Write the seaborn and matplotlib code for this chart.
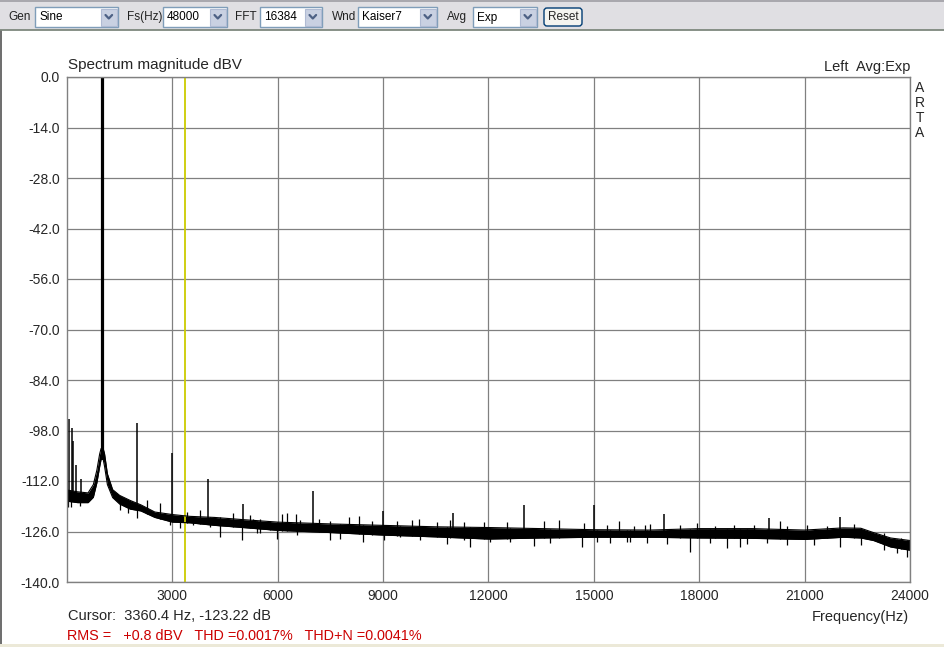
import numpy as np
import pandas as pd
import matplotlib
matplotlib.use('Agg')
import matplotlib.pyplot as plt
import seaborn as sns
from matplotlib.patches import Rectangle, FancyBboxPatch

# noise floor core (Hz, dBV)
floor_freq = [0, 300, 600, 750, 850, 930, 970, 1030, 1070, 1150, 1300, 1500, 1800,
              2100, 2500, 3000, 3500, 4200, 5000, 6000, 7500, 9000, 10500, 12000,
              13500, 15000, 16600, 18000, 19500, 21000, 22100, 22600, 22960, 23450, 24000]
floor_hi = [-114.5, -115.0, -115.3, -113.0, -109.0, -104.5, -103.0, -103.0, -104.5,
            -110.0, -114.4, -116.0, -117.4, -118.6, -120.6, -121.3, -121.8, -122.1,
            -122.7, -123.4, -123.9, -124.3, -124.7, -124.9, -125.2, -125.5, -125.6,
            -125.2, -125.2, -125.6, -125.0, -125.1, -126.3, -127.8, -128.5]
floor_lo = [-117.6, -118.0, -118.0, -116.5, -112.5, -108.0, -106.0, -106.0, -108.0,
            -113.0, -116.6, -118.4, -119.8, -120.3, -122.1, -123.4, -123.6, -124.3,
            -124.9, -125.7, -126.3, -127.0, -127.5, -128.1, -127.8, -127.6, -127.6,
            -127.8, -127.9, -128.2, -127.6, -127.8, -128.5, -130.3, -131.2]

# fundamental
fund_freq = 1000
fund_level = 0.8

# spurs / harmonics
spur_freq = [50, 150, 180, 250, 390, 2000, 3000, 4000, 5000, 7000, 9000, 11000, 13000,
             15000, 17000, 20000, 22000]
spur_top = [-94.8, -97.3, -100.9, -107.6, -111.5, -95.9, -104.2, -111.4, -118.5, -114.8,
            -120.3, -120.8, -118.7, -118.7, -121.2, -122.2, -121.9]

# upward noise excursions
up_freq = [2270, 2650, 3410, 3790, 4359, 4739, 5214, 5309, 5499, 5784, 6135, 6259, 6520,
           6639, 7161, 7493, 8015, 8301, 8680, 9393, 9820, 10010, 10532, 10912, 11292,
           11862, 12527, 13571, 14000, 14711, 15375, 15710, 16135, 16468, 16610, 17464,
           17939, 18461, 18984, 19554, 20310, 20503, 21073, 21643, 22403, 22783, 23258,
           23732]
up_top = [-117.3, -118.2, -120.5, -120.0, -121.9, -121.0, -121.4, -122.4, -122.6, -123.0,
          -121.2, -121.0, -121.2, -122.8, -122.4, -123.0, -121.9, -121.7, -123.0, -123.0,
          -122.8, -122.4, -123.3, -122.8, -123.3, -123.3, -123.3, -123.1, -122.7, -123.7,
          -124.2, -123.0, -124.4, -124.2, -123.9, -124.2, -123.7, -124.5, -124.2, -124.2,
          -123.0, -124.5, -124.2, -124.5, -123.9, -125.6, -126.5, -127.9]

# downward noise excursions
dip_freq = [38, 105, 370, 1510, 1747, 2003, 2270, 2650, 2935, 3220, 3599, 4074, 4360,
            4977, 5404, 5499, 5990, 6544, 7490, 7778, 8440, 9013, 9488, 10057, 10820,
            11292, 11480, 12052, 12622, 13290, 13761, 14665, 15091, 15470, 15945, 16040,
            16514, 17084, 17730, 18319, 18800, 19170, 19364, 19934, 20503, 21263, 22020,
            22592, 23258, 23640, 23920]
dip_bottom = [-119.1, -119.1, -118.9, -120.0, -121.0, -122.3, -121.0, -121.9, -124.2,
              -125.1, -124.2, -124.7, -127.4, -128.4, -126.5, -126.5, -128.2, -127.0,
              -128.4, -128.2, -128.8, -128.4, -127.6, -128.4, -129.5, -128.4, -130.2,
              -128.8, -128.8, -129.9, -129.3, -130.2, -128.8, -129.1, -128.8, -128.8,
              -129.1, -129.5, -131.6, -129.3, -130.6, -130.2, -129.5, -129.3, -129.7,
              -129.7, -130.2, -129.7, -131.1, -132.0, -133.1]

cursor_freq = 3360.4

x_ticks = [3000, 6000, 9000, 12000, 15000, 18000, 21000, 24000]
y_ticks = [0, -14, -28, -42, -56, -70, -84, -98, -112, -126, -140]

toolbar = [
    ('Gen', 8, 35, 118, 'Sine'),
    ('Fs(Hz)', 127, 163, 227, '48000'),
    ('FFT', 235, 260, 322, '16384'),
    ('Wnd', 332, 358, 437, 'Kaiser7'),
    ('Avg', 447, 473, 537, 'Exp'),
]

sns.set_style('white')
plt.rcParams['font.family'] = ['Liberation Sans', 'DejaVu Sans']
plt.rcParams['axes.unicode_minus'] = False

fig = plt.figure(figsize=(9.44, 6.47), dpi=100)

# window chrome drawn in pixel coordinates
bg = fig.add_axes([0, 0, 1, 1])
bg.set_xlim(0, 944)
bg.set_ylim(647, 0)
bg.axis('off')
bg.add_patch(Rectangle((0, 0), 944, 30, fc='#E0DFE3', ec='none'))
bg.add_patch(Rectangle((0, 0), 944, 2, fc='#A9A8AE', ec='none'))
bg.plot([0, 944], [29.5, 29.5], color='#7E887E', lw=1.3)
bg.add_patch(Rectangle((0, 30), 2, 617, fc='#707070', ec='none'))
bg.add_patch(Rectangle((0, 644), 944, 3, fc='#ECE9D8', ec='none'))

for label, lx, x0, x1, val in toolbar:
    bg.text(lx, 17, label, fontsize=8.5, va='center', ha='left', color='#222222')
    bg.add_patch(Rectangle((x0, 7), x1 - x0, 20, fc='white', ec='#7F9DB9', lw=1))
    bg.add_patch(Rectangle((x1 - 17, 8.5), 15.5, 17, fc='#C9D1E2', ec='#B0BBD3', lw=0.8))
    bg.plot([x1 - 12.5, x1 - 9.2, x1 - 5.9], [15, 18.5, 15], color='#4D6185', lw=1.6)
    bg.text(x0 + 4, 17.5, val, fontsize=8.5, va='center', ha='left', color='black')

bg.add_patch(FancyBboxPatch((544, 8), 38, 18, boxstyle='round,pad=0,rounding_size=3',
                            fc='#F4F4F0', ec='#003C74', lw=1))
bg.text(563, 17.5, 'Reset', fontsize=8.5, ha='center', va='center')

bg.text(68, 65, 'Spectrum magnitude dBV', fontsize=11, ha='left', va='center')
bg.text(910, 67, 'Left  Avg:Exp', fontsize=10.5, ha='right', va='center')
for i, ch in enumerate('ARTA'):
    bg.text(920, 88 + 15 * i, ch, fontsize=10, ha='center', va='center')
bg.text(68, 616, 'Cursor:  3360.4 Hz, -123.22 dB', fontsize=10.5, ha='left', va='center')
bg.text(909, 617, 'Frequency(Hz)', fontsize=10.5, ha='right', va='center')
bg.text(67, 636, 'RMS =   +0.8 dBV   THD =0.0017%   THD+N =0.0041%',
        fontsize=10.4, ha='left', va='center', color='#CC0000')

# spectrum plot
ax = fig.add_axes([67 / 944, 1 - 582 / 647, (910 - 67) / 944, (582 - 77) / 647])
ax.set_facecolor('white')

env = pd.DataFrame({'freq': floor_freq, 'hi': floor_hi, 'lo': floor_lo})
ax.fill_between(env['freq'], env['lo'], env['hi'], color='black', lw=0)
sns.lineplot(data=env, x='freq', y='hi', ax=ax, color='black', lw=0.8)
sns.lineplot(data=env, x='freq', y='lo', ax=ax, color='black', lw=0.8)

spur_base = np.interp(spur_freq, floor_freq, floor_lo)
ax.vlines(spur_freq, spur_base, spur_top, color='black', lw=1.1)
up_base = np.interp(up_freq, floor_freq, floor_lo)
ax.vlines(up_freq, up_base, up_top, color='black', lw=0.9)
dip_base = np.interp(dip_freq, floor_freq, floor_hi)
ax.vlines(dip_freq, dip_base, dip_bottom, color='black', lw=0.9)
ax.vlines([fund_freq], np.interp(fund_freq, floor_freq, floor_lo), fund_level,
          color='black', lw=2.3)

ax.axvline(cursor_freq, color='#CCCC00', lw=1.3, zorder=1)

ax.set_xlim(0, 24000)
ax.set_ylim(-140, 0)
ax.set_xticks(x_ticks)
ax.set_xticklabels([str(t) for t in x_ticks])
ax.set_yticks(y_ticks)
ax.set_yticklabels(['%.1f' % t for t in y_ticks])
ax.grid(True, color='#808080', lw=0.9)
ax.set_axisbelow(True)
for s in ax.spines.values():
    s.set_color('#808080')
    s.set_linewidth(1)
ax.tick_params(length=0, labelsize=10, pad=5)
ax.set_xlabel('')
ax.set_ylabel('')

fig.savefig('out.png', dpi=100)
